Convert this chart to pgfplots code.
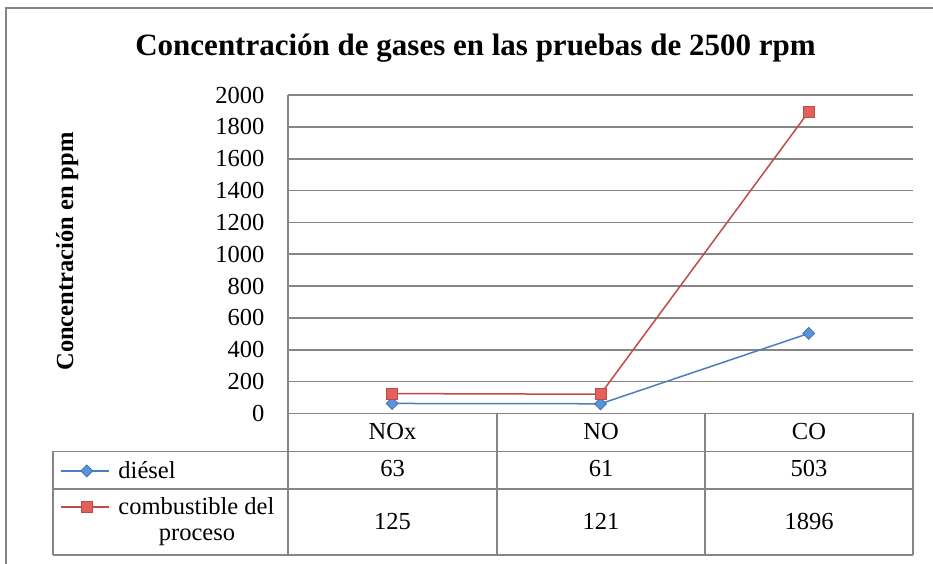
\documentclass[border=0pt]{standalone}
\usepackage{fontspec}
\setmainfont{Liberation Serif}
\usepackage{pgfplots}
\pgfplotsset{compat=1.18}
\definecolor{gridgray}{HTML}{858585}
\definecolor{dblue}{HTML}{4A7EBB}
\definecolor{dbluefill}{HTML}{5B93D8}
\definecolor{dblueborder}{HTML}{3E72B6}
\definecolor{cred}{HTML}{BE4B48}
\definecolor{credfill}{HTML}{E2615D}
\newcommand{\mytf}{\rmfamily\fontsize{24.5}{29}\selectfont}
\begin{document}
\begin{tikzpicture}[x=1pt,y=1pt]
% outer chart frame
\draw[gridgray, line width=1.6pt] (6,-20) -- (6,556) -- (960,556);
% data table grid
\begin{scope}[gridgray, line width=1.7pt]
\draw (288,469) -- (288,9);
\draw (288,150.5) -- (913,150.5);
\draw (53,112.5) -- (913,112.5);
\draw (53,75) -- (913,75);
\draw (53,9) -- (913,9);
\draw (53,112.5) -- (53,9);
\draw (497,150.5) -- (497,9);
\draw (705,150.5) -- (705,9);
\draw (913,150.5) -- (913,9);
\end{scope}
\begin{axis}[
  at={(288pt,150.5pt)}, anchor=south west,
  scale only axis, width=625pt, height=318.5pt,
  xmin=-0.5, xmax=2.5, ymin=0, ymax=2000,
  ytick={0,200,...,2000}, xtick=\empty,
  ymajorgrids, grid style={gridgray, line width=1.7pt},
  axis line style={draw=none},
  major tick length=0pt,
  yticklabel style={inner sep=0pt, xshift=-23.5pt, font=\mytf},
  /pgf/number format/assume math mode=true,
  /pgf/number format/1000 sep={},
  clip=false,
  legend cell align=left,
  legend style={at={(-0.3648,-0.151)}, anchor=north west, draw=none, fill=none,
    inner sep=0pt, outer sep=0pt, row sep=17.7pt, column sep=9pt,
    font=\mytf, nodes={inner sep=0pt}},
  legend image code/.code={\draw[mark repeat=2, mark phase=2, #1] plot coordinates {(0pt,0pt) (26pt,0pt) (48pt,0pt)};},
]
\addplot[color=dblue, line width=1.5pt, mark=square*, mark size=4.2pt,
  mark options={rotate=45, fill=dbluefill, draw=dblueborder, line width=0.8pt}]
  coordinates {(0,63) (1,61) (2,503)};
\addlegendentry{diésel}
\addplot[color=cred, line width=1.5pt, mark=square*, mark size=5.4pt,
  mark options={fill=credfill, draw=cred, line width=0.8pt}]
  coordinates {(0,125) (1,121) (2,1896)};
\addlegendentry{combustible del}
\end{axis}
% title and axis label
\node[anchor=base, font=\rmfamily\fontsize{31}{36}\selectfont\bfseries] at (475.5,508) {Concentración de gases en las pruebas de 2500 rpm};
\node[rotate=90, anchor=base, font=\mytf\bfseries] at (73,312.5) {Concentración en ppm};
% table text
\node[anchor=base, font=\mytf] at (197,23.5) {proceso};
\foreach \x/\c/\a/\b in {392.5/NOx/63/125, 601/NO/61/121, 809/CO/503/1896}{
  \node[anchor=base, font=\mytf] at (\x,124) {\c};
  \node[anchor=base, font=\mytf] at (\x,87) {\a};
  \node[anchor=base, font=\mytf] at (\x,34) {\b};
}
\pgfresetboundingbox
\useasboundingbox (0,0) rectangle (933,564);
\end{tikzpicture}
\end{document}
